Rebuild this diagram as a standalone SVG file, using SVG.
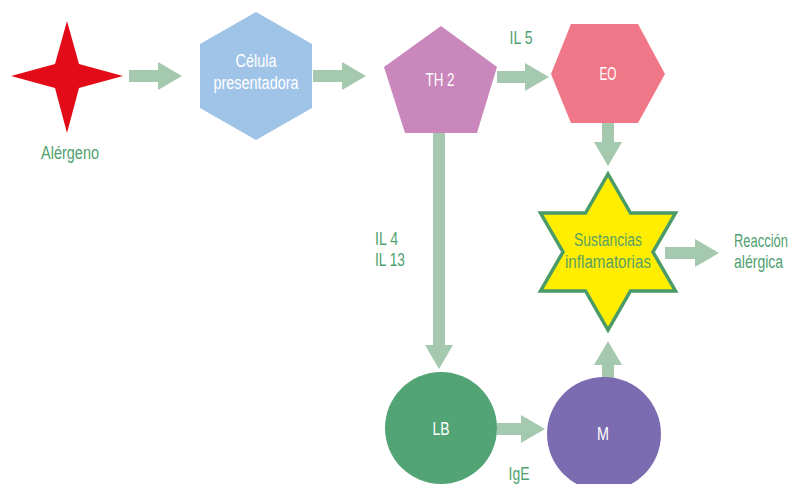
<svg xmlns="http://www.w3.org/2000/svg" width="793" height="484" viewBox="0 0 793 484">
<style>
.t{font-family:"Liberation Sans",Arial,sans-serif;font-size:18px;text-anchor:middle}
.w{fill:#ffffff}
.g{fill:#4f9f6f}
.y{fill:#5aa164}
.l{text-anchor:start}
.arr{stroke:#a5c9ae;stroke-width:12;fill:none;marker-end:url(#ah)}
</style>
<defs>
<marker id="ah" markerUnits="userSpaceOnUse" markerWidth="24" markerHeight="28" refX="0" refY="14" orient="auto" overflow="visible">
<path d="M0,0 L24,14 L0,28 Z" fill="#a5c9ae"/>
</marker>
</defs>
<rect width="793" height="484" fill="#ffffff"/>
<g id="connectors">
<line class="arr" x1="129" y1="76" x2="158" y2="76"/>
<line class="arr" x1="313" y1="76" x2="342" y2="76"/>
<line class="arr" x1="497" y1="77" x2="525" y2="77"/>
<line class="arr" x1="608" y1="123" x2="608" y2="142"/>
<line class="arr" x1="439" y1="133" x2="439" y2="345"/>
<line class="arr" x1="497" y1="429" x2="521" y2="429"/>
<line class="arr" x1="608" y1="378" x2="608" y2="365"/>
<line class="arr" x1="665" y1="253" x2="695" y2="253"/>
</g>
<g id="alergeno">
<path d="M67,21 L79,64 L123,76 L79,88 L67,133 L55,88 L11,76 L55,64 Z" fill="#e30b17"/>
<text class="t g" x="70" y="159" textLength="58" lengthAdjust="spacingAndGlyphs">Alérgeno</text>
</g>
<g id="celula">
<path d="M256,12 L312,44 L312,108 L256,140 L200,108 L200,44 Z" fill="#9fc4e8"/>
<text class="t w" x="256" y="67" textLength="41" lengthAdjust="spacingAndGlyphs">Célula</text>
<text class="t w" x="256" y="89" textLength="85" lengthAdjust="spacingAndGlyphs">presentadora</text>
</g>
<g id="th2">
<path d="M441,26 L497,67 L477,133 L405,133 L384,67 Z" fill="#c987bb"/>
<text class="t w" x="440" y="86" textLength="29" lengthAdjust="spacingAndGlyphs">TH 2</text>
</g>
<text class="t g" x="521" y="44" textLength="23" lengthAdjust="spacingAndGlyphs">IL 5</text>
<g id="eo">
<path d="M571,24 L638,24 L665,74 L638,123 L571,123 L551,74 Z" fill="#f07787"/>
<text class="t w" x="608" y="80" textLength="17" lengthAdjust="spacingAndGlyphs">EO</text>
</g>
<g id="sustancias">
<path d="M608,174 L630.5,213 L675.5,213 L653,252 L675.5,291 L630.5,291 L608,330 L585.5,291 L540.5,291 L563,252 L540.5,213 L585.5,213 Z" fill="#ffee00" stroke="#4a9b68" stroke-width="3.5" stroke-linejoin="miter"/>
<text class="t y" x="608" y="246" textLength="68" lengthAdjust="spacingAndGlyphs">Sustancias</text>
<text class="t y" x="608" y="268" textLength="86" lengthAdjust="spacingAndGlyphs">inflamatorias</text>
</g>
<g id="reaccion">
<text class="t g l" transform="translate(734,247) scale(0.72,1)">Reacción</text>
<text class="t g l" transform="translate(734,268) scale(0.78,1)">alérgica</text>
</g>
<text class="t g l" x="375" y="245" textLength="23" lengthAdjust="spacingAndGlyphs">IL 4</text>
<text class="t g l" x="375" y="266" textLength="30" lengthAdjust="spacingAndGlyphs">IL 13</text>
<g id="lb">
<circle cx="441" cy="428" r="56" fill="#52a475"/>
<text class="t w" x="441" y="435" textLength="17" lengthAdjust="spacingAndGlyphs">LB</text>
</g>
<text class="t g" x="519" y="480" textLength="21" lengthAdjust="spacingAndGlyphs">IgE</text>
<g id="m">
<circle cx="604" cy="434" r="57" fill="#7b6bb0"/>
<text class="t w" x="603" y="440" textLength="12" lengthAdjust="spacingAndGlyphs">M</text>
</g>
</svg>
